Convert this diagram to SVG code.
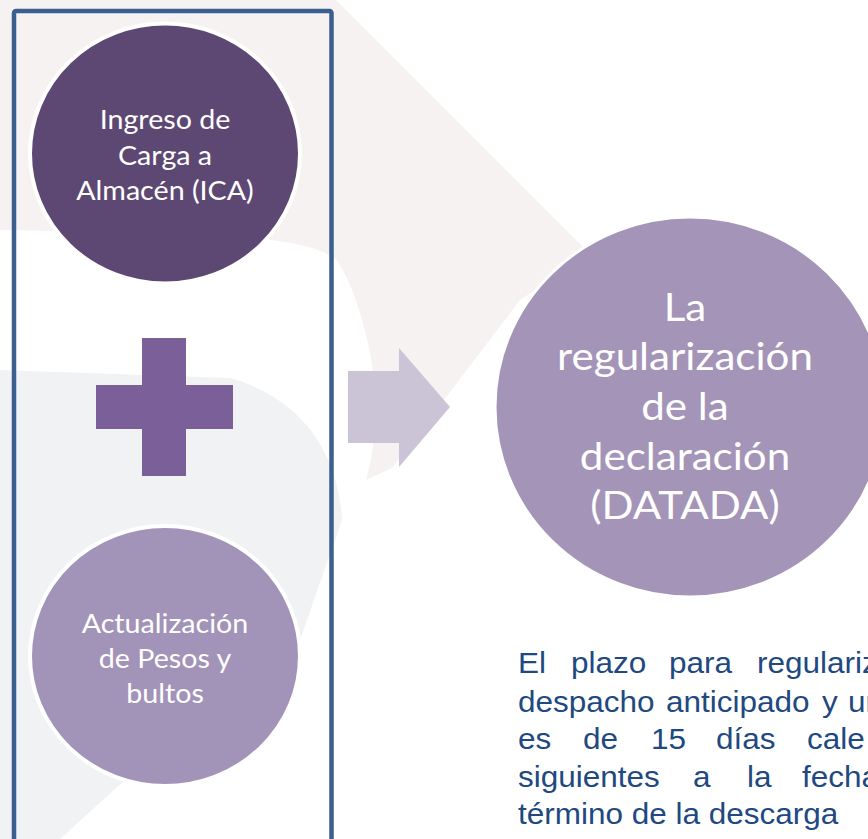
<svg xmlns="http://www.w3.org/2000/svg" width="868" height="839" viewBox="0 0 868 839">
  <style>
    .ctext { font-family: Lato, "Open Sans", sans-serif; fill: #ffffff; text-anchor: middle; }
    .small { font-size: 26.5px; }
    .big { font-size: 39px; }
    .para { font-family: "Liberation Sans", Arial, sans-serif; font-size: 30px; fill: #21497f; }
    .ring { stroke: #ffffff; stroke-width: 4; }
  </style>
  <rect x="0" y="0" width="868" height="839" fill="#ffffff"/>
  <g id="watermark">
    <path d="M0,0 L336,0 L590,254 L520,300 L392,468 L366,480 C378,440 380,380 362,320 C355,295 346,272 335,258 C300,238 260,234 0,230 Z" fill="#f5f2f1"/>
    <path d="M0,370 L230,378 C300,398 338,450 342,520 L300,640 L125,780 L60,839 L0,839 Z" fill="#f1f2f4"/>
  </g>
  <g id="group-box">
    <rect x="14" y="11" width="317.5" height="900" rx="2" fill="none" stroke="#3b5f8e" stroke-width="4.5"/>
  </g>
  <g id="node-ica">
    <ellipse cx="165" cy="153.5" rx="135" ry="130" fill="#5d4874" class="ring"/>
    <g transform="translate(165 0) scale(1.08 1)">
      <text class="ctext small" x="0" y="129.5">Ingreso de</text>
      <text class="ctext small" x="0" y="165">Carga a</text>
      <text class="ctext small" x="0" y="200.5">Almacén (ICA)</text>
    </g>
  </g>
  <g id="node-plus">
    <path d="M142,338 H186 V385 H233 V429 H186 V476 H142 V429 H96 V385 H142 Z" fill="#7b5f99"/>
  </g>
  <g id="node-pesos">
    <ellipse cx="165" cy="656" rx="135" ry="130" fill="#a293b8" class="ring"/>
    <g transform="translate(165 0) scale(1.08 1)">
      <text class="ctext small" x="0" y="633.5">Actualización</text>
      <text class="ctext small" x="0" y="668.5">de Pesos y</text>
      <text class="ctext small" x="0" y="703">bultos</text>
    </g>
  </g>
  <g id="connectors">
    <path d="M348,371 H399 V348 L450,407 L399,467 V443 H348 Z" fill="#cbc4d6"/>
  </g>
  <g id="node-datada">
    <ellipse cx="690" cy="407" rx="195" ry="190" fill="#a394b8" stroke="#ffffff" stroke-width="3"/>
    <g transform="translate(685 0) scale(1.08 1)">
      <text class="ctext big" x="0" y="321">La</text>
      <text class="ctext big" x="0" y="370">regularización</text>
      <text class="ctext big" x="0" y="420">de la</text>
      <text class="ctext big" x="0" y="470">declaración</text>
      <text class="ctext big" x="0" y="519">(DATADA)</text>
    </g>
  </g>
  <g id="note" transform="translate(518 0) scale(1.05 1)">
    <text class="para" y="673"><tspan x="0">El</tspan><tspan x="50.5">plazo</tspan><tspan x="143.8">para</tspan><tspan x="227.6">regulariz</tspan></text>
    <text class="para" y="712"><tspan x="0">despacho</tspan><tspan x="141">anticipado</tspan><tspan x="289.5">y</tspan><tspan x="314.3">ur</tspan></text>
    <text class="para" y="749"><tspan x="0">es</tspan><tspan x="61.9">de</tspan><tspan x="126.7">15</tspan><tspan x="188.6">días</tspan><tspan x="275.2">cale</tspan></text>
    <text class="para" y="787"><tspan x="0">siguientes</tspan><tspan x="166.7">a</tspan><tspan x="218.1">la</tspan><tspan x="270.5">fecha</tspan></text>
    <text class="para" x="0" y="824">término de la descarga</text>
  </g>
</svg>
